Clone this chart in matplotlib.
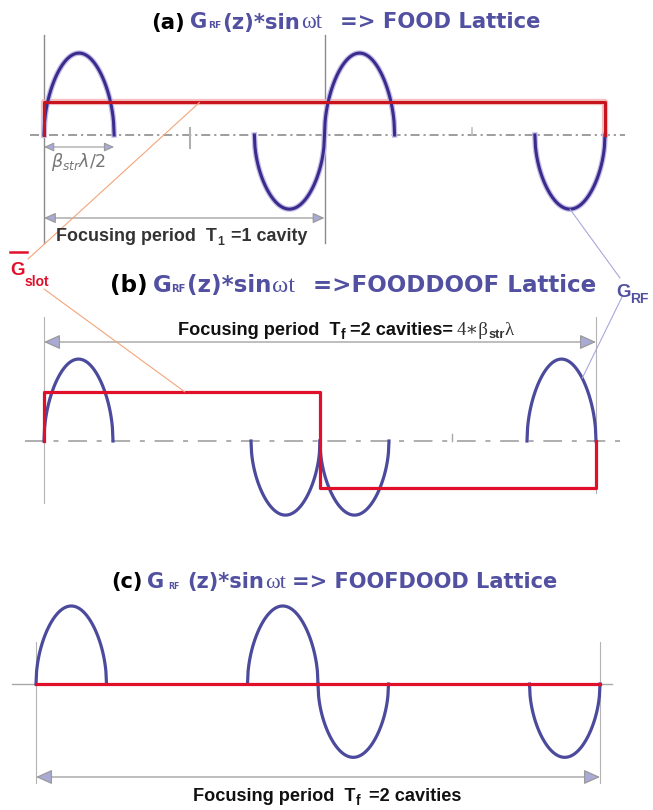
import numpy as np
import matplotlib
matplotlib.use("Agg")
import matplotlib.pyplot as plt
from matplotlib.patches import FancyArrowPatch, ConnectionPatch
from matplotlib.transforms import blended_transform_factory, IdentityTransform

W, H = 653, 810

# half-wave slots (units of beta_str*lambda/2) that carry a field lobe
lobe_slot = [0, 3, 4, 7]
n_slots = 8
# lobe heights of G_RF(z)*sin(wt), relative units
lobes_a = [1.05, -0.95, 1.05, -0.95]   # FOOD
lobes_b = [1.05, -0.95, -0.95, 1.05]   # FOODDOOF
lobes_c = [1.00, 1.00, -0.94, -0.94]   # FOOFDOOD
# averaged slot gradient, one value per cavity
gslot_a = [0.42, 0.42]
gslot_b = [0.63, -0.60]
gslot_c = [0.0, 0.0]

PURPLE = "#5250a0"
LOBE = "#4b4a9c"
LOBE_A = "#3a2c8c"
RED = "#e0102a"
GREY = "#a8a8a8"
ARROW_FC = "#aaaad6"
SANS = ["Liberation Sans", "DejaVu Sans"]
WIDE = ["DejaVu Sans"]
SERIF = ["Liberation Serif", "DejaVu Serif"]

plt.rcParams["lines.scale_dashes"] = False
fig = plt.figure(figsize=(W / 100, H / 100), dpi=100)


def panel(x0, x1, y0, amp):
    ax = fig.add_axes([0, 0, 1, 1])
    dz = (x1 - x0) / n_slots
    ax.set_xlim(-x0 / dz, (W - x0) / dz)
    ax.set_ylim((y0 - H) / amp, y0 / amp)
    ax.axis("off")
    ax.patch.set_visible(False)
    return ax


axa = panel(44, 605, 135, 78)
axb = panel(44, 596, 441, 78)
axc = panel(36, 600, 684, 78)
axp = fig.add_axes([0, 0, 1, 1])
axp.set_xlim(0, W)
axp.set_ylim(H, 0)
axp.axis("off")
axp.patch.set_visible(False)


def mixed(ax):
    return blended_transform_factory(ax.transData, axp.transData)


def draw_lobes(ax, heights, color, lw):
    for k, h in zip(lobe_slot, heights):
        z = np.linspace(k, k + 1, 120)
        s = np.sqrt(np.clip(np.sin(np.pi * (z - k)), 0, None))
        ax.plot(z, h * s, color=color, lw=lw, clip_on=False, zorder=3)


def draw_gslot(ax, levels, color, lw, **kw):
    cav = n_slots / len(levels)
    z, v = [0], [0]
    for i, g in enumerate(levels):
        z += [i * cav, (i + 1) * cav]
        v += [g, g]
    z.append(n_slots)
    v.append(0)
    ax.plot(z, v, color=color, lw=lw, clip_on=False, **kw)


def arrow(ax, y, z0, z1, scale, lw=0.9):
    a = FancyArrowPatch((z0, y), (z1, y), transform=mixed(ax),
                        arrowstyle="<|-|>,head_length=1.0,head_width=0.45",
                        mutation_scale=scale, fc=ARROW_FC, ec="#9a9a9a",
                        lw=lw, shrinkA=0, shrinkB=0, zorder=2)
    ax.add_patch(a)


def rich(x, y, pieces, ha="center", width=None):
    """pieces: (text, size, color, weight, family, gap_px, dy_px down)"""
    r = fig.canvas.get_renderer()
    made = []
    for s, size, color, weight, family, gap, dy in pieces:
        t = fig.text(0, 0, s, transform=IdentityTransform(), va="baseline",
                     ha="left", fontsize=size, color=color,
                     fontweight=weight, family=family)
        made.append([t, size, gap, dy])

    def layout(k):
        cx, offs = 0.0, []
        for t, size, gap, dy in made:
            t.set_fontsize(size * k)
            cx += gap * k
            offs.append(cx)
            cx += t.get_window_extent(r).width
        return cx, offs

    k = 1.0
    cx, offs = layout(k)
    if width:
        k = width / cx
        cx, offs = layout(k)
    x0 = x - cx / 2 if ha == "center" else x
    for (t, size, gap, dy), off in zip(made, offs):
        t.set_position((x0 + off, H - y - dy * k))


def title(x, y, width, tag, sub_gap, z_gap, eq_gap, rest, sub_size=6.5,
          sub_dy=0):
    size = 15
    rich(x, y, [
        (tag, size, "black", "bold", WIDE, 0, 0),
        ("G", size, PURPLE, "bold", WIDE, 5, 0),
        ("RF", sub_size, PURPLE, "bold", WIDE, sub_gap, sub_dy),
        ("(z)*sin", size, PURPLE, "bold", WIDE, z_gap, 0),
        ("\u03c9t", size + 1, PURPLE, "normal", SERIF, 1, 0),
        (rest, size, PURPLE, "bold", WIDE, eq_gap, 0),
    ], width=width)


# ---------------- (a) FOOD ----------------
ta = mixed(axa)
for z in (0, 4):
    axa.plot([z, z], [35, 243], transform=ta, color="#8a8a8a", lw=1)
axa.axhline(0, xmin=30 / W, xmax=625 / W, color="#8c8c8c", lw=1.2,
            dashes=(6.5, 2.8, 1.6, 2.8))
axp.plot([190, 190], [128, 148], color="#b0b0b0", lw=1.5)
axp.plot([472, 472], [128, 135], color="#c0c0c0", lw=1.2)
draw_gslot(axa, gslot_a, "#f3b0b0", 4.5, alpha=0.8)
draw_gslot(axa, gslot_a, "#c8141e", 2.2, zorder=4)
draw_lobes(axa, lobes_a, "#c4bce6", 4)
draw_lobes(axa, lobes_a, LOBE_A, 2.2)
arrow(axa, 147, 0, 1, 6, lw=0.8)
arrow(axa, 218, 0, 4, 7, lw=0.9)
rich(78, 167, [(r"$\beta_{str}\lambda/2$", 8, "#777777", "normal", SANS, 0, 0)],
     width=56)
rich(182, 241, [
    ("Focusing period  T", 9.5, "#333333", "bold", SANS, 0, 0),
    ("1", 6.5, "#333333", "bold", SANS, 0, 3),
    (" =1 cavity", 9.5, "#333333", "bold", SANS, 2, 0),
], width=250)
title(346, 28.5, 388, "(a)", 0, 1, 18, "=> FOOD Lattice")

# ---------------- (b) FOODDOOF ----------------
tb = mixed(axb)
axb.plot([0, 0], [317, 503], transform=tb, color="#b4b4b4", lw=0.8)
axb.plot([8, 8], [317, 493], transform=tb, color="#b4b4b4", lw=0.8)
axb.axhline(0, xmin=25 / W, xmax=625 / W, color=GREY, lw=1.3,
            dashes=(13.5, 7, 3.6, 7))
axp.plot([452, 452], [434, 441], color=GREY, lw=1)
draw_gslot(axb, gslot_b, RED, 2.3, zorder=4)
draw_lobes(axb, lobes_b, LOBE, 2.3)
arrow(axb, 342, 0, 8, 10)
rich(346, 335, [
    ("Focusing period  T", 12, "#111111", "bold", SANS, 0, 0),
    ("f", 9, "#111111", "bold", SANS, 0, 4),
    ("=2 cavities=", 12, "#111111", "bold", SANS, 5, 0),
    ("4\u2217\u03b2", 12.5, "#333333", "normal", SERIF, 3, 0),
    ("str", 8.5, "#333333", "bold", SANS, 0, 3),
    ("\u03bb", 12.5, "#333333", "normal", SERIF, 0, 0),
], width=334)
title(353, 292, 486, "(b)", 0, 1, 16, "=>FOODDOOF Lattice")

# ---------------- (c) FOOFDOOD ----------------
tc = mixed(axc)
for z in (0, 8):
    axc.plot([z, z], [642, 783], transform=tc, color="#b4b4b4", lw=0.8)
axc.axhline(0, xmin=12 / W, xmax=612 / W, color=GREY, lw=1)
draw_gslot(axc, gslot_c, RED, 2.3, zorder=4)
draw_lobes(axc, lobes_c, LOBE, 2.3)
arrow(axc, 777, 0, 8, 10)
rich(327, 801, [
    ("Focusing period  T", 12, "#111111", "bold", SANS, 0, 0),
    ("f", 9, "#111111", "bold", SANS, 0, 4),
    (" =2 cavities", 12, "#111111", "bold", SANS, 3, 0),
], width=266)
title(334, 588, 448, "(c)", 4, 7, 6, "=> FOOFDOOD Lattice", sub_size=5.5,
      sub_dy=1)

# ---------------- labels and leaders ----------------
rich(10, 275, [("G", 13.5, RED, "bold", SANS, 0, 0),
               ("slot", 10, RED, "bold", SANS, 0, 11)], ha="left")
axp.plot([10, 27], [252, 252], color=RED, lw=1.8)
rich(616, 297, [("G", 13.5, PURPLE, "bold", SANS, 0, 0),
                ("RF", 10, PURPLE, "bold", SANS, 0, 6)], ha="left")

for xy, ax, pt, col in [
        ((28, 259), axa, (2.22, gslot_a[0]), "#f2a57a"),
        ((44, 289), axb, (2.04, gslot_b[0]), "#f2a57a"),
        ((620, 278), axa, (7.5, lobes_a[3]), "#a8a8dc"),
        ((622, 297), axb, (7.8, lobes_b[3] * np.sqrt(np.sin(0.8 * np.pi))),
         "#a8a8dc")]:
    fig.add_artist(ConnectionPatch(xyA=xy, coordsA=axp.transData, xyB=pt,
                                   coordsB=ax.transData, color=col, lw=0.8))

fig.savefig("out.png", dpi=100)
